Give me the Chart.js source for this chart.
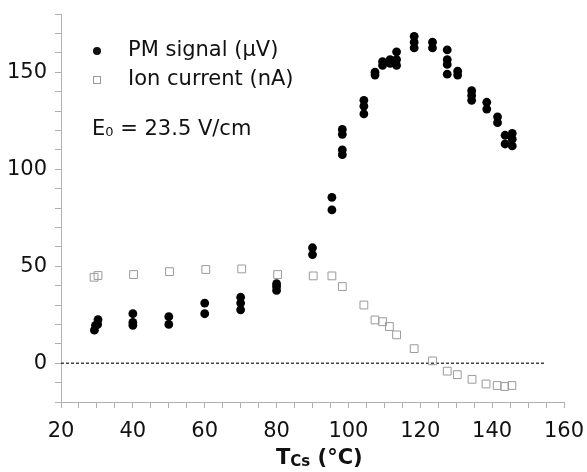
<!DOCTYPE html>
<html>
<head>
<meta charset="utf-8">
<script src="https://cdn.jsdelivr.net/npm/chart.js@4/dist/chart.umd.min.js"></script>
<style>
  html, body { margin: 0; padding: 0; background: #fff; }
  #wrap { width: 587px; height: 472px; }
</style>
</head>
<body>
<div id="wrap"><canvas id="chart-tcs" width="587" height="472"></canvas></div>
<script>
// PM signal (µV) vs Cs temperature
const pmTemp = [29.3, 29.6, 30.2, 30.3,
  40, 40, 40, 50, 50, 60, 60, 70, 70, 70, 80, 80, 80,
  90, 90, 95.4, 95.4, 98.3, 98.3, 98.3, 98.3,
  104.3, 104.3, 104.3, 107.4, 107.4, 109.5, 109.5, 111.6, 111.6,
  113.4, 113.4, 113.4, 118.3, 118.3, 118.3, 123.4, 123.4,
  127.5, 127.5, 127.5, 127.5, 130.4, 130.4, 134.3, 134.3, 134.3,
  138.5, 138.5, 141.5, 141.5, 143.6, 143.6, 145.6, 145.6, 145.6];
const pmSignal = [17, 19.5, 20, 22.5,
  25.5, 21, 19.5, 24, 20, 31, 25.5, 34, 31, 27.5, 41, 39.5, 37.5,
  59.5, 56, 85.5, 79, 120.5, 118, 110, 107.5,
  135.5, 132.5, 128.5, 150, 148.5, 155.5, 153.5, 156.5, 154.5,
  160.5, 156.5, 153.5, 168.5, 165.5, 162.5, 165.5, 162.5,
  161.5, 156.5, 154, 149, 150.5, 148.5, 140.5, 138, 135.5,
  134.5, 131, 127, 124, 117.5, 113, 118.5, 115.5, 112];

// ion current (nA)
const ionTemp = [29.2, 30.3, 40.2, 50.2, 60.3, 70.3, 80.3, 90.2, 95.4, 98.3,
  104.3, 107.4, 109.5, 111.4, 113.4, 118.3, 123.4, 127.5, 130.3, 134.4,
  138.3, 141.4, 143.5, 145.5];
const ionCurrent = [44.3, 45.2, 45.7, 47.2, 48.3, 48.6, 45.7, 45, 45, 39.5,
  30, 22.3, 21.4, 18.9, 14.6, 7.5, 1.2, -4.1, -5.9, -8.3,
  -10.7, -11.5, -12, -11.5];

// zero reference line
const zeroX = [20, 155];
const zeroY = [0, 0];

const xLabels = [20, 40, 60, 80, 100, 120, 140, 160];
const yLabels = [0, 50, 100, 150];

const FONT = '"DejaVu Sans", sans-serif';
const AXIS_GREY = '#b0b0b0';
const SQ_GREY = '#9a9a9a';

const toXY = (xs, ys) => xs.map((x, i) => ({ x, y: ys[i] }));

// legend, E0 note and x title drawn on the canvas
const overlay = {
  id: 'overlay',
  afterDraw(chart) {
    const { ctx } = chart;
    ctx.save();
    ctx.textBaseline = 'middle';
    ctx.fillStyle = '#111';

    // legend markers
    ctx.beginPath();
    ctx.arc(97, 51, 4, 0, Math.PI * 2);
    ctx.fill();
    ctx.strokeStyle = SQ_GREY;
    ctx.lineWidth = 1;
    ctx.strokeRect(93.5, 76.5, 7, 7);

    ctx.font = `21px ${FONT}`;
    ctx.textAlign = 'left';
    ctx.fillText('PM signal (\u03BCV)', 128, 51);
    ctx.fillText('Ion current (nA)', 128, 80);

    // E0 = 23.5 V/cm
    let x = 92;
    ctx.fillText('E', x, 130);
    x += ctx.measureText('E').width;
    ctx.font = `13px ${FONT}`;
    ctx.fillText('0', x, 133);
    x += ctx.measureText('0').width;
    ctx.font = `21px ${FONT}`;
    ctx.fillText(' = 23.5 V/cm', x, 130);

    // x title T_Cs (°C)
    const yT = 459;
    ctx.font = `bold 21px ${FONT}`;
    const wT = ctx.measureText('T').width;
    let tx = 276;
    ctx.fillText('T', tx, yT);
    tx += wT;
    ctx.font = `bold 15px ${FONT}`;
    ctx.fillText('Cs', tx, yT + 3);
    tx += ctx.measureText('Cs').width;
    ctx.font = `bold 21px ${FONT}`;
    ctx.fillText(' (\u00B0C)', tx, yT);
    ctx.restore();
  },
};

new Chart(document.getElementById('chart-tcs'), {
  type: 'scatter',
  data: {
    datasets: [
      {
        label: 'zero',
        type: 'line',
        data: toXY(zeroX, zeroY),
        borderColor: '#444',
        borderWidth: 1.5,
        borderDash: [3, 2],
        pointRadius: 0,
        fill: false,
        order: 3,
      },
      {
        label: 'Ion current (nA)',
        data: toXY(ionTemp, ionCurrent),
        pointStyle: 'rect',
        pointRadius: 5.5,
        borderColor: SQ_GREY,
        borderWidth: 1,
        backgroundColor: 'rgba(255,255,255,0)',
        order: 2,
      },
      {
        label: 'PM signal (\u03BCV)',
        data: toXY(pmTemp, pmSignal),
        pointStyle: 'circle',
        pointRadius: 4.4,
        borderWidth: 0,
        backgroundColor: '#000',
        order: 1,
      },
    ],
  },
  options: {
    responsive: false,
    animation: false,
    layout: { padding: { top: 14, right: 23, left: 0, bottom: 0 } },
    plugins: {
      legend: { display: false },
      tooltip: { enabled: false },
    },
    scales: {
      x: {
        type: 'linear',
        min: 20,
        max: 160,
        afterFit: s => { s.height = 70; s.paddingLeft = 0; s.paddingRight = 0; },
        border: { color: AXIS_GREY, width: 1 },
        grid: { drawOnChartArea: false, drawTicks: true, tickLength: 6, color: AXIS_GREY },
        ticks: {
          stepSize: 5,
          autoSkip: false,
          maxRotation: 0,
          padding: 11,
          color: '#111',
          font: { family: FONT, size: 21 },
          callback: v => xLabels.includes(v) ? String(v) : '',
        },
      },
      y: {
        type: 'linear',
        min: -20,
        max: 180,
        afterFit: s => { s.width = 61; s.paddingTop = 0; s.paddingBottom = 0; },
        border: { color: AXIS_GREY, width: 1 },
        grid: { drawOnChartArea: false, drawTicks: true, tickLength: 6, color: AXIS_GREY },
        ticks: {
          stepSize: 10,
          autoSkip: false,
          padding: 8,
          color: '#111',
          font: { family: FONT, size: 21 },
          callback: v => yLabels.includes(v) ? String(v) : '',
        },
      },
    },
  },
  plugins: [overlay],
});
</script>
</body>
</html>
